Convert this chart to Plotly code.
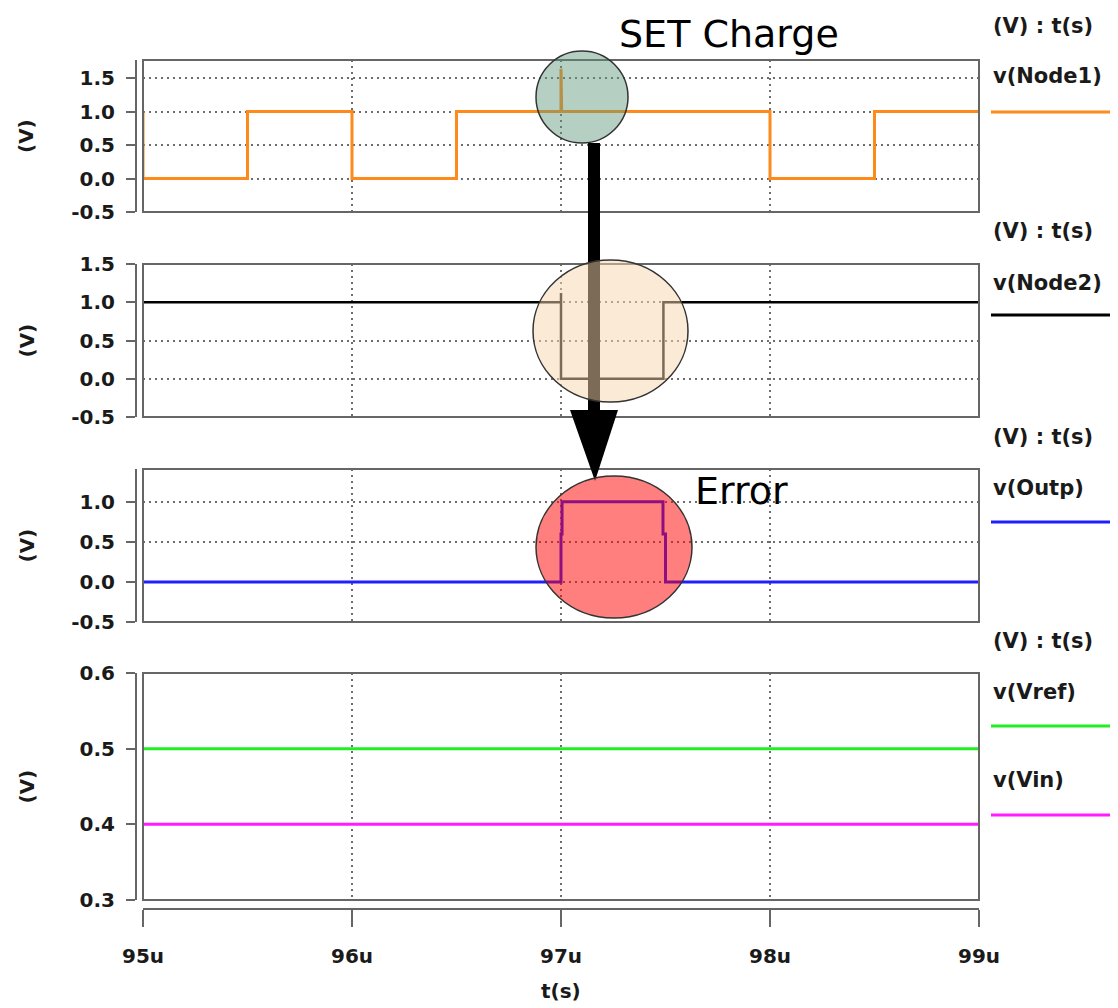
import plotly.graph_objects as go

# ---------------- data ----------------
x_ticks = [95, 96, 97, 98, 99]
x_tick_text = ["95u", "96u", "97u", "98u", "99u"]

t_node1 = [95.0, 95.0, 95.5, 95.5, 96.0, 96.0, 96.5, 96.5, 97.0, 97.0, 97.003, 97.003, 98.0, 98.0, 98.5, 98.5, 99.0]
v_node1 = [1.0, 0.0, 0.0, 1.0, 1.0, 0.0, 0.0, 1.0, 1.0, 1.64, 1.64, 1.0, 1.0, 0.0, 0.0, 1.0, 1.0]

t_node2 = [95.0, 97.0, 97.0, 97.0, 97.49, 97.49, 99.0]
v_node2 = [1.0, 1.0, 1.12, 0.0, 0.0, 1.0, 1.0]

t_outp = [95.0, 97.0, 97.0, 97.005, 97.005, 97.488, 97.488, 97.5, 97.5, 99.0]
v_outp = [0.0, 0.0, 0.6, 0.6, 1.0, 1.0, 0.6, 0.6, 0.0, 0.0]

t_vref = [95.0, 99.0]
v_vref = [0.5, 0.5]
t_vin = [95.0, 99.0]
v_vin = [0.4, 0.4]

y1_ticks = [-0.5, 0.0, 0.5, 1.0, 1.5]
y2_ticks = [-0.5, 0.0, 0.5, 1.0, 1.5]
y3_ticks = [-0.5, 0.0, 0.5, 1.0]
y4_ticks = [0.3, 0.4, 0.5, 0.6]

# ---------------- helpers ----------------
OFF = 8  # page body margin
W, H = 1118 - OFF, 1008 - OFF
def px(x):
    return (x - OFF) / W
def py(y):
    return 1 - (y - OFF) / H

FONT = "DejaVu Sans"
TXT = "#1a1a1a"
AX = "#666666"
GRID = "#6e6e6e"

fig = go.Figure()
fig.add_trace(go.Scatter(x=t_node1, y=v_node1, mode="lines", line=dict(color="#ff8a1c", width=3), xaxis="x", yaxis="y", showlegend=False))
fig.add_trace(go.Scatter(x=t_node2, y=v_node2, mode="lines", line=dict(color="#000000", width=2.5), xaxis="x2", yaxis="y2", showlegend=False))
fig.add_trace(go.Scatter(x=t_outp, y=v_outp, mode="lines", line=dict(color="#1e1eff", width=3), xaxis="x3", yaxis="y3", showlegend=False))
fig.add_trace(go.Scatter(x=t_vref, y=v_vref, mode="lines", line=dict(color="#22ee22", width=3), xaxis="x4", yaxis="y4", showlegend=False))
fig.add_trace(go.Scatter(x=t_vin, y=v_vin, mode="lines", line=dict(color="#ff1cff", width=3), xaxis="x5", yaxis="y4", showlegend=False))

xdom = [px(143), px(979)]
panels = [  # (top px, bottom px, range, ticks)
    (60, 212, [-0.5, 1.77], y1_ticks),
    (264, 417, [-0.5, 1.5], y2_ticks),
    (469, 622, [-0.5, 1.41], y3_ticks),
    (673, 900, [0.3, 0.6], y4_ticks),
]

layout = dict(
    width=W, height=H,
    margin=dict(l=0, r=0, t=0, b=0, pad=0, autoexpand=False),
    paper_bgcolor="white", plot_bgcolor="white",
    showlegend=False,
)

for i, (top, bot, rng, ticks) in enumerate(panels, start=1):
    sfx = "" if i == 1 else str(i)
    layout["xaxis" + sfx] = dict(
        domain=xdom, anchor="y" + sfx, range=[95, 99],
        tickvals=[96, 97, 98], showticklabels=False, ticks="",
        showgrid=True, gridcolor=GRID, gridwidth=1.5, griddash="2px,4px",
        zeroline=False, showline=False, automargin=False,
    )
    if i > 1:
        layout["xaxis" + sfx]["matches"] = "x"
    layout["yaxis" + sfx] = dict(
        domain=[py(bot), py(top)], anchor="free", position=px(136),
        range=rng, tickvals=ticks, ticktext=[f"{v:.1f}" for v in ticks],
        ticks="outside", ticklen=9, tickwidth=2, tickcolor=AX,
        showline=True, linecolor=AX, linewidth=2,
        showgrid=True, gridcolor=GRID, gridwidth=1.5, griddash="2px,4px",
        zeroline=False, ticklabelstandoff=7, automargin=False,
        tickfont=dict(family=FONT, size=20, color=TXT, weight="bold"),
    )

layout["xaxis5"] = dict(
    domain=xdom, overlaying="x4", anchor="free", position=py(909), side="bottom",
    range=[95, 99], tickvals=x_ticks, ticktext=x_tick_text,
    ticks="outside", ticklen=17, tickwidth=2, tickcolor=AX,
    showline=True, linecolor=AX, linewidth=2, showgrid=False, zeroline=False,
    ticklabelstandoff=12, automargin=False,
    tickfont=dict(family=FONT, size=20, color=TXT, weight="bold"),
)

fig.update_layout(**layout)

shapes = []
# plot boxes
for i in range(1, 5):
    shapes.append(dict(type="rect",
                       xref="x domain" if i == 1 else f"x{i} domain",
                       yref="y domain" if i == 1 else f"y{i} domain",
                       x0=0, x1=1, y0=0, y1=1, line=dict(color=AX, width=2), layer="above"))

# legend samples
legend_items = [
    ("v(Node1)", 76, 112, "#ff8a1c"),
    ("v(Node2)", 283, 315, "#000000"),
    ("v(Outp)", 488, 522, "#1e1eff"),
    ("v(Vref)", 692, 726, "#22ee22"),
    ("v(Vin)", 780, 815, "#ff1cff"),
]
headers = [26, 231, 437, 641]

annotations = []
for hy in headers:
    annotations.append(dict(text="(V) : t(s)", xref="paper", yref="paper", x=px(991), y=py(hy),
                            xanchor="left", yanchor="middle", showarrow=False,
                            font=dict(family=FONT, size=21, color=TXT, weight="bold")))
for name, ty, ly, col in legend_items:
    annotations.append(dict(text=name, xref="paper", yref="paper", x=px(991), y=py(ty),
                            xanchor="left", yanchor="middle", showarrow=False,
                            font=dict(family=FONT, size=21, color=TXT, weight="bold")))
    shapes.append(dict(type="line", xref="paper", yref="paper", x0=px(991), x1=px(1118),
                       y0=py(ly), y1=py(ly), line=dict(color=col, width=3), layer="above"))

# y axis titles
for top, bot, _, _ in panels:
    annotations.append(dict(text="(V)", xref="paper", yref="paper", x=px(26), y=py((top + bot) / 2),
                            xanchor="center", yanchor="middle", textangle=-90, showarrow=False,
                            font=dict(family=FONT, size=20, color=TXT, weight="bold")))
# x axis title
annotations.append(dict(text="t(s)", xref="paper", yref="paper", x=px(561), y=py(991),
                        xanchor="center", yanchor="middle", showarrow=False,
                        font=dict(family=FONT, size=20, color=TXT, weight="bold")))

# callout texts
annotations.append(dict(text="SET Charge", xref="paper", yref="paper", x=px(729), y=py(34),
                        xanchor="center", yanchor="middle", showarrow=False,
                        font=dict(family=FONT, size=38, color="#000000")))
annotations.append(dict(text="Error", xref="paper", yref="paper", x=px(741), y=py(491),
                        xanchor="center", yanchor="middle", showarrow=False,
                        font=dict(family=FONT, size=38, color="#000000")))

# arrow (shaft + head)
shapes.append(dict(type="rect", xref="paper", yref="paper", x0=px(588), x1=px(600), y0=py(411), y1=py(143),
                   fillcolor="#000000", line=dict(width=0), layer="above"))
shapes.append(dict(type="path", xref="paper", yref="paper",
                   path=f"M {px(570)},{py(410)} L {px(618)},{py(410)} L {px(595)},{py(481)} Z",
                   fillcolor="#000000", line=dict(width=0), layer="above"))

# highlight circles
shapes.append(dict(type="circle", xref="paper", yref="paper", x0=px(536), x1=px(628), y0=py(143), y1=py(51),
                   fillcolor="rgba(90,150,120,0.45)", line=dict(color="#333333", width=1.5), layer="above"))
shapes.append(dict(type="circle", xref="paper", yref="paper", x0=px(533), x1=px(688), y0=py(402), y1=py(260),
                   fillcolor="rgba(245,214,173,0.5)", line=dict(color="#333333", width=1.5), layer="above"))
shapes.append(dict(type="circle", xref="paper", yref="paper", x0=px(536), x1=px(692), y0=py(618), y1=py(476),
                   fillcolor="rgba(255,0,0,0.5)", line=dict(color="#333333", width=1.5), layer="above"))

fig.update_layout(shapes=shapes, annotations=annotations)
fig.write_html("out.html")
